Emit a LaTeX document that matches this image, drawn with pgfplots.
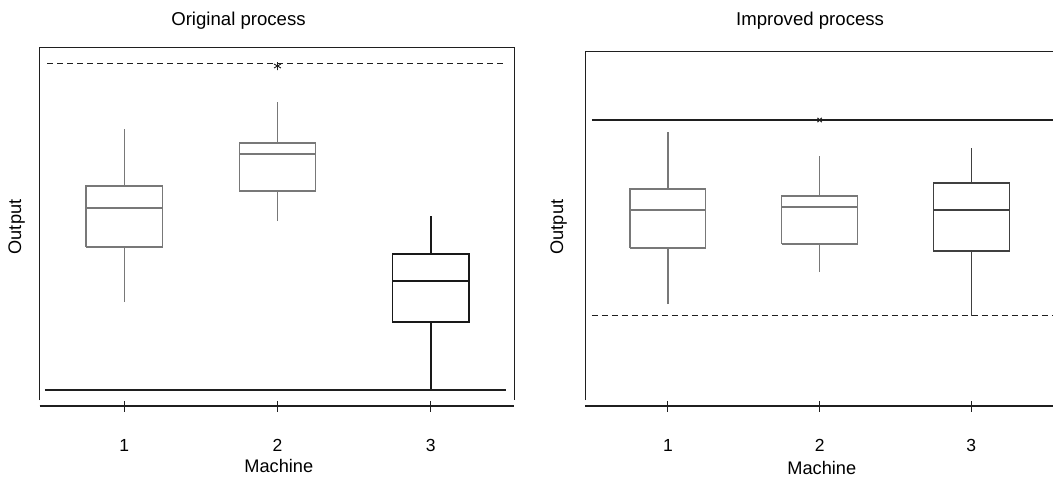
\documentclass[border=0pt]{standalone}
\usepackage{pgfplots}
\pgfplotsset{compat=1.18}
\usepackage{fontspec}
\setmainfont{Liberation Sans}

\definecolor{boxgray}{gray}{0.47}
\definecolor{darkbox}{gray}{0.1}
\definecolor{midbox}{gray}{0.25}
\definecolor{linec}{gray}{0.12}

\pgfplotsset{
  panel/.style={
    scale only axis,
    axis x line*=bottom,
    axis y line*=left,
    y axis line style={draw=none},
    x axis line style={line width=1.6bp, color=linec},
    xtick={1,2,3},
    ytick=\empty,
    major tick length=11bp,
    tick align=center,
    tick style={line width=1bp, color=linec},
    clip=false,
    unbounded coords=jump,
    /pgf/number format/assume math mode=true,
    xticklabel style={font=\fontsize{17.5bp}{20bp}\selectfont, anchor=base, yshift=-39.5bp},
    label style={font=\fontsize{18.2bp}{21bp}\selectfont},
  },
  greybox/.style={draw=boxgray, line width=1.2bp, solid, mark=none, line join=miter},
}

\begin{document}
\begin{tikzpicture}
\useasboundingbox (0,0) rectangle (1053bp,-477bp);

% ---------------- Original process ----------------
\begin{axis}[panel,
  at={(39.6bp,-406bp)}, anchor=south west,
  width=474.7bp, height=359bp,
  xmin=0.447, xmax=3.546, ymin=71, ymax=430,
  title={Original process},
  title style={font=\fontsize{18.6bp}{21bp}\selectfont, at={(axis description cs:0.419,1.044)}, anchor=base},
  xlabel={Machine},
  xlabel style={at={(axis description cs:0.504,-0.1866)}, anchor=base},
  ylabel={Output},
  ylabel style={at={(axis description cs:-0.039,0.4986)}, anchor=base},
]
\addplot[linec, line width=1bp, mark=none] coordinates {(0.447,77) (0.447,430) (3.546,430) (3.546,77)};
% machine 1: whiskers 175/348, quartiles 230/291, median 269
\addplot[greybox] coordinates {(0.75,230) (1.25,230) (1.25,291) (0.75,291) (0.75,230) (nan,nan) (0.75,269) (1.25,269) (nan,nan) (1,175) (1,230) (nan,nan) (1,291) (1,348)};
% machine 2: whiskers 256/375, quartiles 286/334, median 323
\addplot[greybox] coordinates {(1.75,286) (2.25,286) (2.25,334) (1.75,334) (1.75,286) (nan,nan) (1.75,323) (2.25,323) (nan,nan) (2,256) (2,286) (nan,nan) (2,334) (2,375)};
% machine 3: whiskers 87/261, quartiles 155/223, median 196
\addplot[greybox, draw=darkbox, line width=1.7bp] coordinates {(2.75,155) (3.25,155) (3.25,223) (2.75,223) (2.75,155) (nan,nan) (2.75,196) (3.25,196) (nan,nan) (3,87) (3,155) (nan,nan) (3,223) (3,261)};
\addplot[linec, line width=1bp, mark=none, dash pattern=on 6bp off 4bp] coordinates {(0.496,414) (3.493,414)};
\addplot[linec, line width=1.4bp, mark=none] coordinates {(0.481,87) (3.493,87)};
\addplot[only marks, mark=asterisk, mark size=4bp, linec, line width=0.9bp] coordinates {(2,411)};
\end{axis}

% ---------------- Improved process ----------------
\begin{axis}[panel,
  at={(585bp,-406bp)}, anchor=south west,
  width=468bp, height=355bp,
  xmin=0.453, xmax=3.539, ymin=71, ymax=426,
  title={Improved process},
  title style={font=\fontsize{18.6bp}{21bp}\selectfont, at={(axis description cs:0.481,1.056)}, anchor=base},
  xlabel={Machine},
  xlabel style={at={(axis description cs:0.506,-0.194)}, anchor=base},
  ylabel={Output},
  ylabel style={at={(axis description cs:-0.047,0.504)}, anchor=base},
]
\addplot[linec, line width=1bp, mark=none] coordinates {(0.453,77) (0.453,426) (3.539,426)};
% machine 1: whiskers 173/345, quartiles 229/288, median 267
\addplot[greybox] coordinates {(0.75,229) (1.25,229) (1.25,288) (0.75,288) (0.75,229) (nan,nan) (0.75,267) (1.25,267) (nan,nan) (1,173) (1,229) (nan,nan) (1,288) (1,345)};
% machine 2: whiskers 205/321, quartiles 233/281, median 270
\addplot[greybox] coordinates {(1.75,233) (2.25,233) (2.25,281) (1.75,281) (1.75,233) (nan,nan) (1.75,270) (2.25,270) (nan,nan) (2,205) (2,233) (nan,nan) (2,281) (2,321)};
% machine 3: whiskers 161/329, quartiles 226/294, median 267
\addplot[greybox, draw=midbox, line width=1.3bp] coordinates {(2.75,226) (3.25,226) (3.25,294) (2.75,294) (2.75,226) (nan,nan) (2.75,267) (3.25,267) (nan,nan) (3,161) (3,226) (nan,nan) (3,294) (3,329)};
\addplot[linec, line width=1.2bp, mark=none] coordinates {(0.498,357) (3.539,357)};
\addplot[linec, line width=1bp, mark=none, dash pattern=on 6bp off 4bp] coordinates {(0.498,162) (3.539,162)};
\addplot[only marks, mark=x, mark size=3bp, linec, line width=1.2bp] coordinates {(2,357)};
\end{axis}
\end{tikzpicture}
\end{document}
